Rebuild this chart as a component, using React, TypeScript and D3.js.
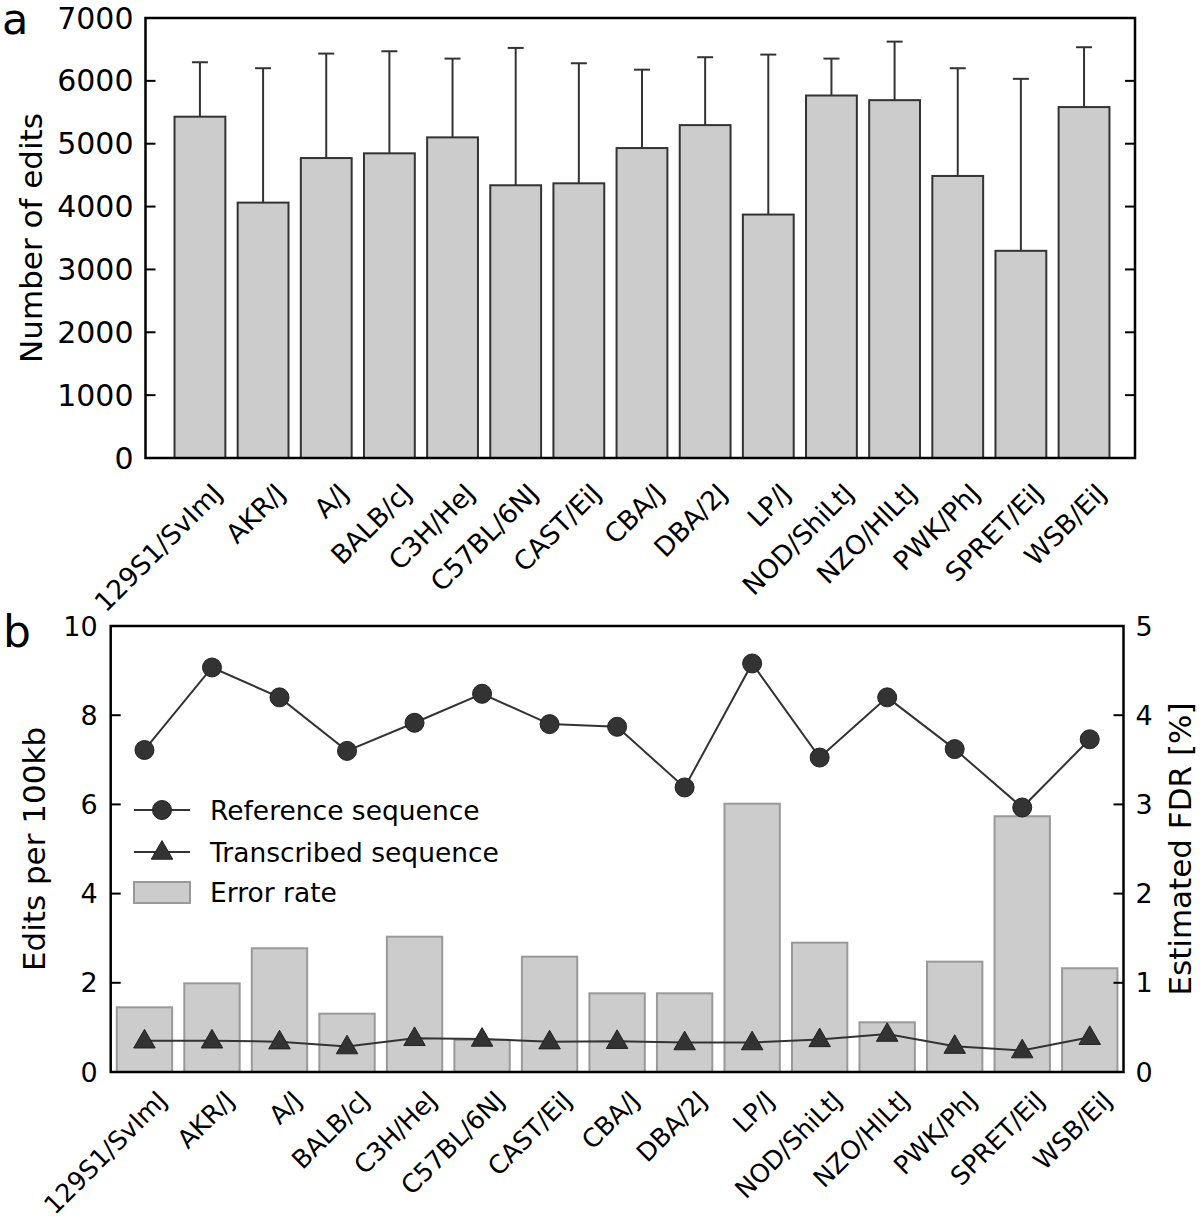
import React from "react";
import * as d3 from "d3";

const strains = ["129S1/SvImJ","AKR/J","A/J","BALB/cJ","C3H/HeJ","C57BL/6NJ","CAST/EiJ","CBA/J","DBA/2J","LP/J","NOD/ShiLtJ","NZO/HlLtJ","PWK/PhJ","SPRET/EiJ","WSB/EiJ"];
const editsMean = [5430, 4063, 4772, 4847, 5101, 4339, 4370, 4931, 5296, 3873, 5767, 5693, 4487, 3296, 5583];
const editsUpper = [6296, 6201, 6434, 6471, 6354, 6524, 6280, 6178, 6376, 6418, 6354, 6624, 6201, 6032, 6535];
const editsTicks = [0, 1000, 2000, 3000, 4000, 5000, 6000, 7000];

const refSeq = [7.22, 9.07, 8.4, 7.2, 7.83, 8.48, 7.8, 7.74, 6.38, 9.16, 7.05, 8.4, 7.24, 5.93, 7.46];
const transSeq = [0.7, 0.7, 0.68, 0.57, 0.755, 0.74, 0.68, 0.69, 0.66, 0.66, 0.73, 0.85, 0.58, 0.48, 0.78];
const errorRate = [0.725, 0.994, 1.387, 0.654, 1.517, 0.359, 1.293, 0.882, 0.882, 3.008, 1.45, 0.557, 1.237, 2.867, 1.163];
const leftTicksB = [0, 2, 4, 6, 8, 10];
const rightTicksB = [0, 1, 2, 3, 4, 5];

const FONT = "DejaVu Sans, sans-serif";
const DARK = "#333333";

export default function App() {
  const idx = strains.map((_, i) => i);
  // Panel a
  const aL = 145.5, aR = 1135, aT = 18, aB = 458;
  const xa = d3.scaleLinear().domain([-0.862, 14.807]).range([aL, aR]);
  const ya = d3.scaleLinear().domain([0, 7000]).range([aB, aT]);
  const bwA = (xa(1) - xa(0)) * 0.805;

  // Panel b
  const bL = 110.7, bR = 1123.5, bT = 626, bB = 1072;
  const xb = d3.scaleLinear().domain([-0.5, 14.5]).range([bL, bR]);
  const ybL = d3.scaleLinear().domain([0, 10]).range([bB, bT]);
  const ybR = d3.scaleLinear().domain([0, 5]).range([bB, bT]);
  const bwB = (xb(1) - xb(0)) * 0.82;

  const refLine = d3.line<number>().x((_, i) => xb(i)).y((d) => ybL(d))(refSeq) || "";
  const transLine = d3.line<number>().x((_, i) => xb(i)).y((d) => ybL(d))(transSeq) || "";
  const tri = d3.symbol().type(d3.symbolTriangle).size(200)() || "";

  return (
    <svg width={1200} height={1219} style={{ position: "absolute", left: 0, top: 0, background: "#fff" }} fontFamily={FONT}>
      <rect width={1200} height={1219} fill="#fff" />
      {/* Panel a */}
      <text x={2} y={34} fontSize={43}>a</text>
      {idx.map((i) => (
        <g key={"ba" + i}>
          <rect x={xa(i) - bwA / 2} y={ya(editsMean[i])} width={bwA} height={aB - ya(editsMean[i])} fill="#cccccc" stroke={DARK} strokeWidth={2} />
          <line x1={xa(i)} x2={xa(i)} y1={ya(editsMean[i])} y2={ya(editsUpper[i])} stroke={DARK} strokeWidth={2} />
          <line x1={xa(i) - 8} x2={xa(i) + 8} y1={ya(editsUpper[i])} y2={ya(editsUpper[i])} stroke={DARK} strokeWidth={2} />
        </g>
      ))}
      <rect x={aL} y={aT} width={aR - aL} height={aB - aT} fill="none" stroke="#000" strokeWidth={2.5} />
      {editsTicks.map((t) => (
        <g key={"ta" + t}>
          <line x1={aL} x2={aL + 10} y1={ya(t)} y2={ya(t)} stroke="#000" strokeWidth={2} />
          <line x1={aR} x2={aR - 10} y1={ya(t)} y2={ya(t)} stroke="#000" strokeWidth={2} />
          <text x={aL - 12} y={ya(t)} fontSize={30} textAnchor="end" dominantBaseline="central">{t}</text>
        </g>
      ))}
      <text transform={`translate(31,${(aT + aB) / 2}) rotate(-90)`} fontSize={31} textAnchor="middle" dominantBaseline="central">Number of edits</text>
      {idx.map((i) => (
        <text key={"la" + i} transform={`translate(${xa(i) + 24},${aB + 37}) rotate(-45)`} fontSize={26.5} textAnchor="end">{strains[i]}</text>
      ))}

      {/* Panel b */}
      <text x={3} y={647} fontSize={44}>b</text>
      {idx.map((i) => (
        <rect key={"bb" + i} x={xb(i) - bwB / 2} y={ybR(errorRate[i])} width={bwB} height={bB - ybR(errorRate[i])} fill="#cccccc" stroke="#999999" strokeWidth={2} />
      ))}
      <path d={refLine} fill="none" stroke={DARK} strokeWidth={2} />
      <path d={transLine} fill="none" stroke={DARK} strokeWidth={2} />
      {idx.map((i) => (
        <circle key={"c" + i} cx={xb(i)} cy={ybL(refSeq[i])} r={9.5} fill={DARK} stroke="#222" strokeWidth={1} />
      ))}
      {idx.map((i) => (
        <path key={"t" + i} d={tri} transform={`translate(${xb(i)},${ybL(transSeq[i]) + 1})`} fill={DARK} stroke="#222" strokeWidth={1} />
      ))}
      <rect x={bL} y={bT} width={bR - bL} height={bB - bT} fill="none" stroke="#000" strokeWidth={2.5} />
      {leftTicksB.map((t) => (
        <g key={"tbl" + t}>
          <line x1={bL} x2={bL + 10} y1={ybL(t)} y2={ybL(t)} stroke="#000" strokeWidth={2} />
          <text x={bL - 13} y={ybL(t)} fontSize={27} textAnchor="end" dominantBaseline="central">{t}</text>
        </g>
      ))}
      {rightTicksB.map((t) => (
        <g key={"tbr" + t}>
          <line x1={bR} x2={bR - 10} y1={ybR(t)} y2={ybR(t)} stroke="#000" strokeWidth={2} />
          <text x={bR + 12} y={ybR(t)} fontSize={27} textAnchor="start" dominantBaseline="central">{t}</text>
        </g>
      ))}
      <text transform={`translate(34,${(bT + bB) / 2}) rotate(-90)`} fontSize={31} textAnchor="middle" dominantBaseline="central">Edits per 100kb</text>
      <text transform={`translate(1180,${(bT + bB) / 2}) rotate(-90)`} fontSize={31} textAnchor="middle" dominantBaseline="central">Estimated FDR [%]</text>
      {idx.map((i) => (
        <text key={"lb" + i} transform={`translate(${xb(i) + 24},${bB + 30}) rotate(-45)`} fontSize={25.5} textAnchor="end">{strains[i]}</text>
      ))}

      {/* Legend */}
      <g>
        <line x1={134} x2={190} y1={810} y2={810} stroke={DARK} strokeWidth={2} />
        <circle cx={162} cy={810} r={9.5} fill={DARK} stroke="#222" strokeWidth={1} />
        <text x={210} y={810} fontSize={26.5} dominantBaseline="central">Reference sequence</text>
        <line x1={134} x2={190} y1={852} y2={852} stroke={DARK} strokeWidth={2} />
        <path d={tri} transform="translate(162,853)" fill={DARK} stroke="#222" strokeWidth={1} />
        <text x={210} y={852} fontSize={26.5} dominantBaseline="central">Transcribed sequence</text>
        <rect x={134} y={882} width={56} height={21} fill="#cccccc" stroke="#999999" strokeWidth={2} />
        <text x={210} y={892} fontSize={26.5} dominantBaseline="central">Error rate</text>
      </g>
    </svg>
  );
}
